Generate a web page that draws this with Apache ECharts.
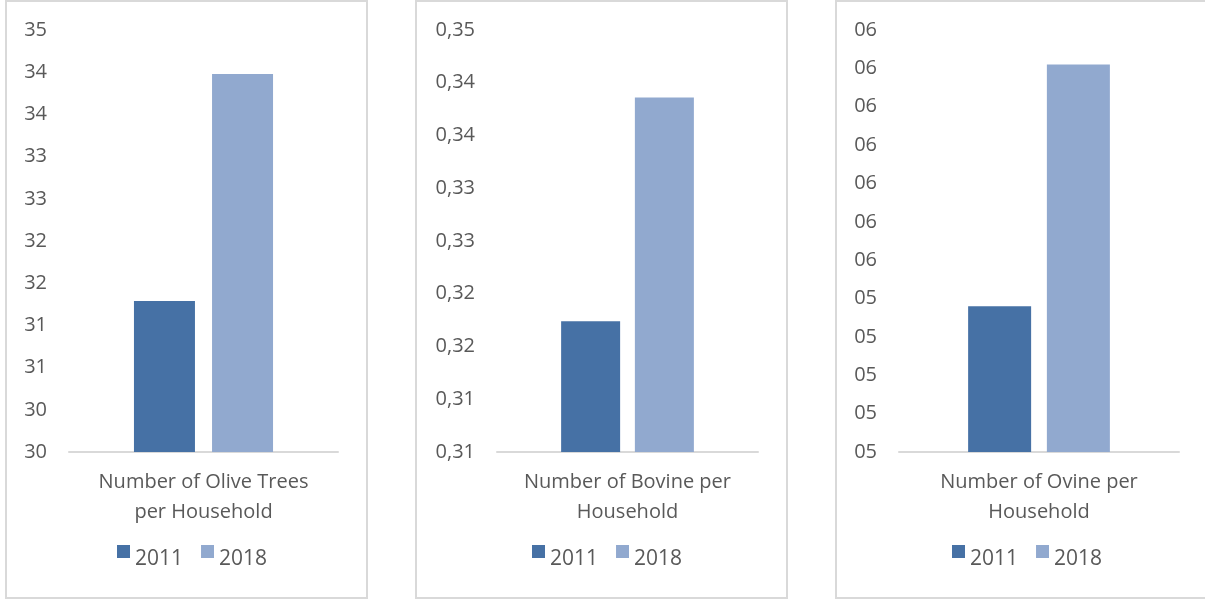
<!DOCTYPE html>
<html>
<head>
<meta charset="utf-8">
<script src="https://cdn.jsdelivr.net/npm/echarts@6/dist/echarts.min.js"></script>
<style>
  html, body { margin: 0; padding: 0; background: #ffffff; width: 1205px; height: 600px; overflow: hidden; }
  .panel { position: absolute; top: 0; height: 599px; box-sizing: border-box; border: 2px solid #D9D9D9; background: #fff; }
</style>
</head>
<body>
<div id="p1" class="panel" style="left:5px;width:363px;"></div>
<div id="p2" class="panel" style="left:415px;width:373px;"></div>
<div id="p3" class="panel" style="left:835px;width:372px;"></div>
<script>
// ---- data ----
const seriesNames = ['2011', '2018'];

const oliveCategories = ['Number of Olive Trees\nper Household'];
const olive2011 = [31.79];
const olive2018 = [34.48];
const oliveTickLabels = ['30', '30', '31', '31', '32', '32', '33', '33', '34', '34', '35'];

const bovineCategories = ['Number of Bovine per\nHousehold'];
const bovine2011 = [0.3224];
const bovine2018 = [0.3436];
const bovineTickLabels = ['0,31', '0,31', '0,32', '0,32', '0,33', '0,33', '0,34', '0,34', '0,35'];

const ovineCategories = ['Number of Ovine per\nHousehold'];
const ovine2011 = [5.38];
const ovine2018 = [6.01];
const ovineTickLabels = ['05', '05', '05', '05', '05', '06', '06', '06', '06', '06', '06', '06'];

const colors = ['#4671A5', '#91A9CF'];
const FONT = 'Open Sans';
const TXT = '#595959';

function build(el, cfg) {
  const chart = echarts.init(document.getElementById(el), null, { renderer: 'canvas' });
  chart.setOption({
    animation: false,
    color: colors,
    textStyle: { fontFamily: FONT },
    grid: { left: cfg.gridLeft, width: cfg.gridWidth, top: 28, height: 422 },
    legend: {
      data: seriesNames,
      left: cfg.legendLeft,
      top: 526,
      padding: 5,
      icon: 'rect',
      itemWidth: 13,
      itemHeight: 13,
      itemGap: 18,
      formatter: '{t|{name}}',
      textStyle: {
        color: TXT, fontSize: 21, fontFamily: FONT,
        rich: { t: { color: TXT, fontSize: 21, lineHeight: 28, fontFamily: FONT, padding: [16, 0, 0, 0] } }
      }
    },
    xAxis: {
      type: 'category',
      data: cfg.categories,
      axisLine: { lineStyle: { color: '#D9D9D9', width: 2 } },
      axisTick: { show: false },
      axisLabel: { color: TXT, fontSize: 20, lineHeight: 30, margin: 15, fontFamily: FONT }
    },
    yAxis: {
      type: 'value',
      min: cfg.min,
      max: cfg.max,
      interval: cfg.interval,
      splitLine: { show: false },
      axisLine: { show: false },
      axisTick: { show: false },
      axisLabel: {
        color: TXT, fontSize: 20, margin: 22, fontFamily: FONT,
        formatter: function (v) {
          const i = Math.round((v - cfg.min) / cfg.interval);
          return cfg.ticks[i] !== undefined ? cfg.ticks[i] : '';
        }
      }
    },
    series: [
      { name: seriesNames[0], type: 'bar', data: cfg.s1, barWidth: cfg.barWidth, barGap: cfg.barGap },
      { name: seriesNames[1], type: 'bar', data: cfg.s2, barWidth: cfg.barWidth, barGap: cfg.barGap }
    ]
  });
}

build('p1', { gridLeft: 62, gridWidth: 269, legendLeft: 105, categories: oliveCategories, s1: olive2011, s2: olive2018,
  min: 30, max: 35, interval: 0.5, ticks: oliveTickLabels, barWidth: 61, barGap: '28%' });
build('p2', { gridLeft: 80, gridWidth: 261, legendLeft: 110, categories: bovineCategories, s1: bovine2011, s2: bovine2018,
  min: 0.31, max: 0.35, interval: 0.005, ticks: bovineTickLabels, barWidth: 59, barGap: '25%' });
build('p3', { gridLeft: 62, gridWidth: 280, legendLeft: 110, categories: ovineCategories, s1: ovine2011, s2: ovine2018,
  min: 5.0, max: 6.1, interval: 0.1, ticks: ovineTickLabels, barWidth: 63, barGap: '25%' });
</script>
</body>
</html>
